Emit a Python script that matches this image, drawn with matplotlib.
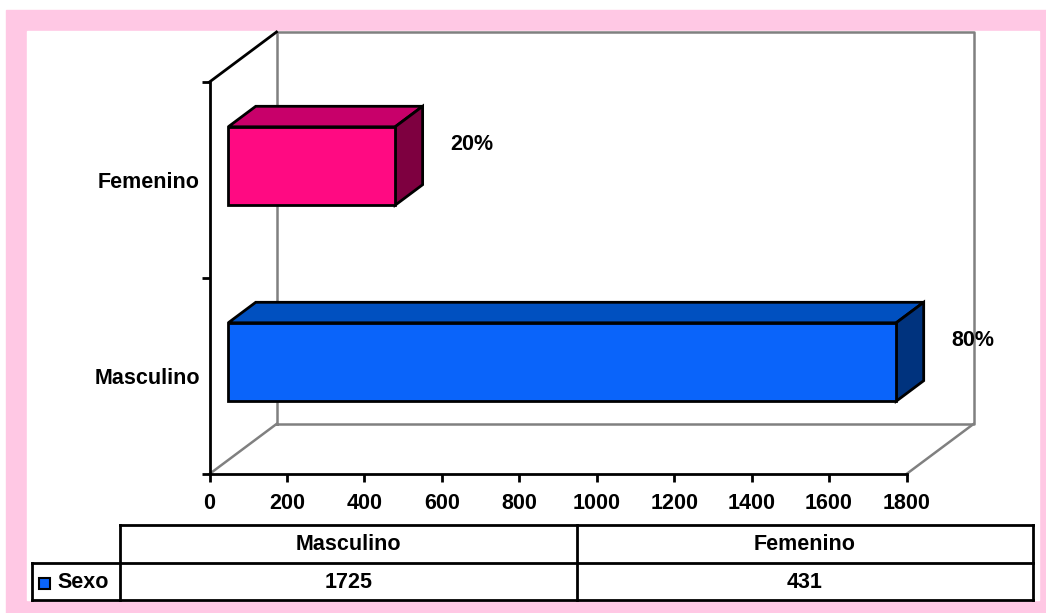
import numpy as np
import matplotlib
matplotlib.use("Agg")
import matplotlib.pyplot as plt
from matplotlib.patches import Polygon, Rectangle

# data
categories = ["Masculino", "Femenino"]
values = [1725, 431]
series_name = "Sexo"
x_ticks = list(range(0, 1801, 200))

front_colors = ["#0A64FA", "#FF0A82"]
top_colors = ["#0050C0", "#C8006A"]
side_colors = ["#00337E", "#7E0040"]
pink = "#FFC8E4"

plt.rcParams["font.family"] = ["Liberation Sans", "DejaVu Sans"]
plt.rcParams["font.weight"] = "bold"
FS = 15.5

W, H = 1046, 613
def fx(px):
    return px / W
def fy(py):
    return 1 - py / H

fig = plt.figure(figsize=(W / 100, H / 100), dpi=100)
fig.patch.set_facecolor("white")
fig.patches.append(Rectangle((fx(6), fy(613)), fx(1046) - fx(6), fy(10) - fy(613),
                             transform=fig.transFigure, color=pink, zorder=-10))
fig.patches.append(Rectangle((fx(27), fy(600)), fx(1039) - fx(27), fy(31) - fy(600),
                             transform=fig.transFigure, color="white", zorder=-9))

# main axes = front plane of the 3d box
ax = fig.add_axes([fx(209.5), fy(474), 697 / W, 392 / H])
ax.set_xlim(0, 1800)
ax.set_ylim(0, len(categories))
ax.patch.set_visible(False)

DX = 67 * 1800 / 697      # depth shift in value units
DY = 50 * 2 / 392         # depth shift in category units
d0, d1 = 0.28, 0.69       # bar depth range
hh = 0.2                  # half bar thickness
LW = 2.0

def P(v, c, d):
    return (v + d * DX, c + d * DY)

gray = "#808080"
xmax = x_ticks[-1]
ytop = len(categories)
back = [P(0, 0, 1), P(xmax, 0, 1), P(xmax, ytop, 1), P(0, ytop, 1), P(0, 0, 1)]
bx, by = zip(*back)
ax.plot(bx, by, color=gray, lw=1.8, clip_on=False, zorder=1)
for v in (0, xmax):
    a, b = P(v, 0, 0), P(v, 0, 1)
    ax.plot([a[0], b[0]], [a[1], b[1]], color=gray, lw=1.8, clip_on=False, zorder=1)
a, b = P(0, ytop, 0), P(0, ytop, 1)
ax.plot([a[0], b[0]], [a[1], b[1]], color="black", lw=LW, clip_on=False, zorder=3)

total = sum(values)
for i, (cat, v) in enumerate(zip(categories, values)):
    c = i + 0.5
    front = [P(0, c - hh, d0), P(v, c - hh, d0), P(v, c + hh, d0), P(0, c + hh, d0)]
    top = [P(0, c + hh, d0), P(v, c + hh, d0), P(v, c + hh, d1), P(0, c + hh, d1)]
    side = [P(v, c - hh, d0), P(v, c - hh, d1), P(v, c + hh, d1), P(v, c + hh, d0)]
    for pts, col in ((top, top_colors[i]), (side, side_colors[i]), (front, front_colors[i])):
        ax.add_patch(Polygon(pts, closed=True, facecolor=col, edgecolor="black",
                             lw=LW, joinstyle="miter", clip_on=False, zorder=4))
    lx, ly = P(v + 190, c, 0.72)
    ax.text(v + 190, ly, f"{v / total * 100:.0f}%", ha="left", va="center",
            fontsize=FS, fontweight="bold", clip_on=False)

for s in ("top", "right"):
    ax.spines[s].set_visible(False)
for s in ("left", "bottom"):
    ax.spines[s].set_linewidth(LW)
    ax.spines[s].set_zorder(3)

ax.set_xticks(x_ticks)
ax.set_xticklabels([str(t) for t in x_ticks], fontsize=FS, fontweight="bold")
ax.tick_params(axis="x", direction="out", length=6, width=LW, pad=7.5)
ax.set_yticks(range(len(categories) + 1))
ax.set_yticklabels([])
ax.tick_params(axis="y", which="major", direction="out", length=6, width=LW)
ax.set_yticks([i + 0.5 for i in range(len(categories))], labels=categories, minor=True)
ax.tick_params(axis="y", which="minor", length=0, pad=7, labelsize=FS)
for lab in ax.get_yticklabels(minor=True):
    lab.set_fontweight("bold")

# data table under the chart
tax = fig.add_axes([fx(32), fy(600), (1033 - 32) / W, 75 / H])
tax.set_xlim(32, 1033)
tax.set_ylim(600, 525)
tax.axis("off")
edges = np.linspace(120, 1033, len(categories) + 1)
kw = dict(color="black", lw=LW, clip_on=False, solid_capstyle="projecting")
tax.plot([120, 1033], [525, 525], **kw)
tax.plot([32, 1033], [563, 563], **kw)
tax.plot([32, 1033], [600, 600], **kw)
tax.plot([32, 32], [563, 600], **kw)
for e in edges:
    tax.plot([e, e], [525, 600], **kw)
for j, (cat, v) in enumerate(zip(categories, values)):
    cx = (edges[j] + edges[j + 1]) / 2
    tax.text(cx, 544, cat, ha="center", va="center", fontsize=FS, fontweight="bold")
    tax.text(cx, 582, str(v), ha="center", va="center", fontsize=FS, fontweight="bold")
tax.add_patch(Rectangle((39, 578), 11, 11, facecolor=front_colors[0], edgecolor="black",
                        lw=1.5, clip_on=False))
tax.text(57, 583, series_name, ha="left", va="center", fontsize=FS, fontweight="bold")

fig.savefig("out.png", dpi=100)
